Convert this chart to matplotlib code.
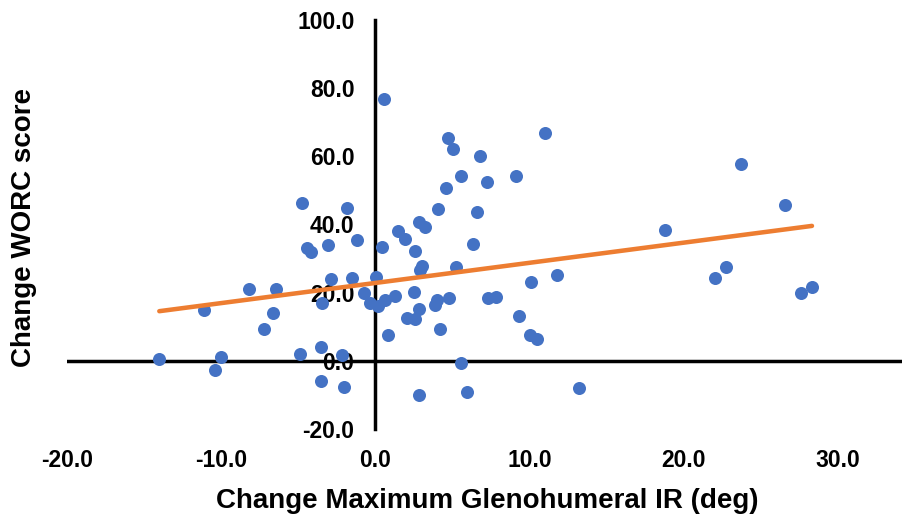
import matplotlib
matplotlib.use("Agg")
import matplotlib.pyplot as plt
import numpy as np
from matplotlib.ticker import FormatStrFormatter

plt.rcParams["font.family"] = ["Liberation Sans", "DejaVu Sans"]
plt.rcParams["font.weight"] = "bold"
plt.rcParams["axes.unicode_minus"] = False

# change in max glenohumeral IR (deg) vs change in WORC score, one entry per subject
ir_change = [
    -14.0, -11.1, -10.4, -10.0, -8.2, -7.2, -6.6, -6.45, -4.9, -4.75,
    -4.4, -4.2, -3.55, -3.55, -3.45, -3.05, -2.9, -2.15, -2.0, -1.85,
    -1.5, -1.2, -0.75, -0.35, 0.05, 0.2, 0.45, 0.55, 0.65, 0.8,
    1.25, 1.45, 1.95, 2.05, 2.5, 2.55, 2.6, 2.8, 2.85, 2.85,
    2.9, 3.0, 3.25, 3.9, 4.0, 4.05, 4.2, 4.6, 4.7, 4.8,
    5.05, 5.25, 5.55, 5.55, 5.95, 6.35, 6.6, 6.8, 7.25, 7.3,
    7.85, 9.15, 9.3, 10.05, 10.5, 10.1, 11.0, 11.8, 13.2, 18.8,
    22.0, 22.7, 23.7, 26.55, 27.6, 28.3,
]
worc_change = [
    0.4, 15.0, -2.7, 1.0, 21.1, 9.3, 14.1, 20.9, 2.0, 46.2,
    33.0, 32.0, 4.1, -6.0, 16.8, 34.1, 23.9, 1.5, -7.9, 44.8,
    24.3, 35.4, 19.9, 16.9, 24.6, 16.0, 33.4, 76.9, 17.8, 7.5,
    19.1, 38.1, 35.7, 12.5, 20.2, 32.2, 12.3, 40.8, 15.1, -10.1,
    26.6, 27.9, 39.4, 16.3, 17.8, 44.5, 9.2, 50.6, 65.5, 18.5,
    62.1, 27.6, 54.4, -0.8, -9.3, 34.2, 43.8, 60.1, 52.6, 18.5,
    18.8, 54.4, 13.0, 7.4, 6.4, 23.1, 66.9, 25.1, -8.2, 38.4,
    24.4, 27.4, 57.8, 45.7, 19.9, 21.7,
]

x_ticks = [-20, -10, 0, 10, 20, 30]
y_ticks = [-20, 0, 20, 40, 60, 80, 100]

fig = plt.figure(figsize=(9.03, 5.21), dpi=100)
ax = fig.add_axes([0.0739, 0.1775, 0.9261, 0.7832])
ax.patch.set_visible(False)

ax.scatter(ir_change, worc_change, s=88, color="#4472C4", linewidths=0, zorder=2.1)

# least-squares trendline across the data range
slope, icpt = np.polyfit(ir_change, worc_change, 1)
xs = np.array([min(ir_change), max(ir_change)])
ax.plot(xs, slope * xs + icpt, color="#ED7D31", lw=3.25,
        solid_capstyle="round", zorder=2.2)

ax.set_xlim(-20, 34.2)
ax.set_ylim(-20, 100)

for side in ["top", "right", "bottom"]:
    ax.spines[side].set_visible(False)
ax.spines["left"].set_position(("data", 0))
ax.spines["left"].set_linewidth(2.5)
ax.spines["left"].set_zorder(1)
ax.axhline(0, color="black", lw=2.5, zorder=1)

ax.set_xticks(x_ticks)
ax.set_yticks(y_ticks)
ax.xaxis.set_major_formatter(FormatStrFormatter("%.1f"))
ax.yaxis.set_major_formatter(FormatStrFormatter("%.1f"))
ax.tick_params(axis="both", length=0, labelsize=16.5)
ax.tick_params(axis="x", pad=15)
ax.tick_params(axis="y", pad=15)

fig.text(487 / 903, 1 - 501 / 521, "Change Maximum Glenohumeral IR (deg)",
         ha="center", va="center", fontsize=20, fontweight="bold")
fig.text(24 / 903, 1 - 228 / 521, "Change WORC score", rotation=90,
         ha="center", va="center", fontsize=20, fontweight="bold")

fig.savefig("out.png", dpi=100, facecolor="white")
